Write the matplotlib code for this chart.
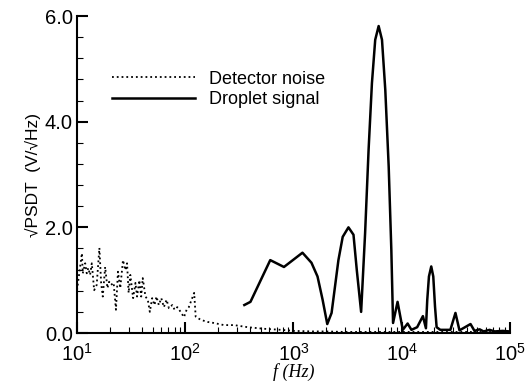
import matplotlib
matplotlib.use('Agg')
import matplotlib.pyplot as plt
import numpy as np
from matplotlib.ticker import MultipleLocator, LogLocator, NullFormatter

plt.rcParams['font.family'] = ['Liberation Sans', 'DejaVu Sans']

# detector noise (Hz, V/sqrt(Hz))
noise_f = [10, 11.1, 11.3, 11.9, 12.3, 12.7, 13.2, 13.7, 14.4, 15.2, 16.1, 16.7,
           17.3, 18.2, 19.1, 19.8, 20.6, 21.8, 22.9, 23.9, 25.1, 26.6, 28.0, 29.0,
           30.0, 31.1, 33.0, 34.7, 35.9, 37.7, 39.2, 40.5, 42.9, 45.1, 47.1, 49.5,
           52.0, 54.3, 57.0, 60.1, 63.5, 67.3, 70.7, 76.0, 79.8, 84.6, 90.7, 97.4,
           103, 108, 121, 125, 139, 161, 184, 228, 283, 379, 537, 773, 1020,
           1500, 2000, 3000, 5000, 10000, 20000, 50000, 100000]
noise_v = [0.81, 1.51, 1.13, 1.32, 1.13, 1.23, 1.10, 1.32, 0.81, 0.91, 1.61, 0.95,
           0.69, 1.25, 0.85, 0.97, 0.91, 0.95, 0.44, 1.16, 0.85, 1.38, 1.19, 1.32,
           0.76, 1.10, 0.66, 0.95, 0.69, 1.00, 0.69, 1.04, 0.69, 0.63, 0.40, 0.66,
           0.53, 0.69, 0.53, 0.66, 0.49, 0.63, 0.47, 0.53, 0.44, 0.49, 0.40, 0.30,
           0.44, 0.49, 0.76, 0.31, 0.25, 0.21, 0.19, 0.15, 0.15, 0.11, 0.08, 0.06, 0.04,
           0.03, 0.03, 0.02, 0.02, 0.02, 0.02, 0.02, 0.02]

# droplet signal
drop_f = [352, 401, 611, 818, 1213, 1469, 1671, 1862, 2056, 2254, 2607, 2856,
          3228, 3593, 3855, 4227, 4600, 4955, 5320, 5705, 6137, 6590, 7070, 7600,
          8040, 8340, 9180, 10260, 11370, 12330, 13930, 15740, 16790, 17260,
          17900, 18800, 19630, 20370, 21080, 22800, 28250, 31470, 34280, 43370,
          47200, 52600, 57300, 65100, 72500, 86000, 100000]
drop_v = [0.53, 0.59, 1.38, 1.25, 1.52, 1.33, 1.07, 0.63, 0.17, 0.38, 1.38, 1.82,
          2.0, 1.86, 1.19, 0.40, 1.89, 3.47, 4.73, 5.55, 5.81, 5.55, 4.60, 3.15,
          1.57, 0.19, 0.59, 0.06, 0.18, 0.06, 0.11, 0.32, 0.09, 0.62,
          1.07, 1.26, 1.07, 0.50, 0.11, 0.06, 0.06, 0.38, 0.05, 0.17,
          0.04, 0.07, 0.03, 0.06, 0.03, 0.04, 0.03]

fig = plt.figure(figsize=(5.25, 3.83), dpi=100)
ax = fig.add_axes([0.1467, 0.1305, 0.8243, 0.8277])

ax.plot(noise_f, noise_v, color='black', linestyle=':', linewidth=1.3, label='Detector noise')
ax.plot(drop_f, drop_v, color='black', linewidth=1.8, label='Droplet signal')

ax.set_xscale('log')
ax.set_xlim(10, 1e5)
ax.set_ylim(0, 6)
ax.yaxis.set_major_locator(MultipleLocator(2.0))
ax.yaxis.set_minor_locator(MultipleLocator(0.4))
ax.yaxis.set_major_formatter(plt.FuncFormatter(lambda v, p: '%.1f' % v))
ax.xaxis.set_major_locator(LogLocator(base=10, numticks=10))
ax.xaxis.set_minor_locator(LogLocator(base=10, subs=np.arange(2, 10), numticks=10))
ax.xaxis.set_minor_formatter(NullFormatter())

for s in ['top', 'right']:
    ax.spines[s].set_visible(False)
for s in ['left', 'bottom']:
    ax.spines[s].set_linewidth(1.5)

ax.tick_params(which='major', direction='in', length=8, width=1.5, labelsize=14.5)
ax.tick_params(axis='y', which='major', pad=3)
ax.tick_params(axis='x', which='major', pad=7)
ax.tick_params(which='minor', direction='in', length=4, width=0.8)

ax.set_ylabel('\u221aPSDT  (V/\u221aHz)', fontsize=12.5, labelpad=3)
ax.set_xlabel('f (Hz)', fontsize=13, family=['Liberation Serif'], style='italic', labelpad=-1)

ax.legend(frameon=False, loc='upper left', bbox_to_anchor=(0.065, 0.85), fontsize=13,
          handlelength=4.6, handletextpad=0.75, labelspacing=0.2, borderaxespad=0)

fig.savefig('out.png', dpi=100)
